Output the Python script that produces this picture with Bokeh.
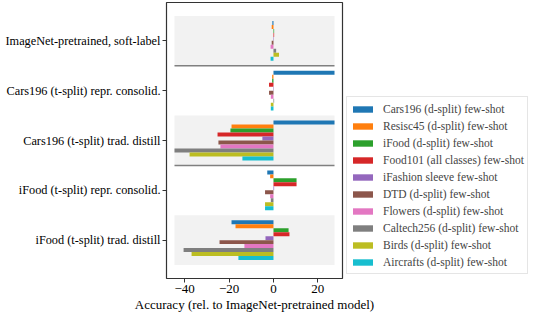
from bokeh.plotting import figure
from bokeh.models import (ColumnDataSource, Legend, LegendItem, FixedTicker, Range1d)
from bokeh.embed import file_html
from bokeh.resources import INLINE

groups = ["ImageNet-pretrained, soft-label", "Cars196 (t-split) repr. consolid.",
          "Cars196 (t-split) trad. distill", "iFood (t-split) repr. consolid.",
          "iFood (t-split) trad. distill"]

series_names = ["Cars196 (d-split) few-shot", "Resisc45 (d-split) few-shot",
                "iFood (d-split) few-shot", "Food101 (all classes) few-shot",
                "iFashion sleeve few-shot", "DTD (d-split) few-shot",
                "Flowers (d-split) few-shot", "Caltech256 (d-split) few-shot",
                "Birds (d-split) few-shot", "Aircrafts (d-split) few-shot"]

cars196 = [-0.5, 27.5, 27.5, -2.8, -18.9]
resisc45 = [-0.8, -0.6, -18.9, -1.5, -17.1]
ifood = [0.3, -0.6, -19.4, 10.4, 6.8]
food101 = [0.3, -2.0, -25.2, 10.4, 7.2]
ifashion = [0.2, 0.2, -5.0, 0.3, -3.6]
dtd = [-0.8, -2.0, -24.8, -3.8, -24.3]
flowers = [-1.3, -1.2, -23.9, -1.5, -13.1]
caltech256 = [1.2, 0.3, -44.6, -1.2, -40.5]
birds = [2.5, -1.2, -37.8, -3.8, -36.9]
aircrafts = [-1.3, -1.2, -14.0, -3.8, -15.8]

series_values = [cars196, resisc45, ifood, food101, ifashion, dtd, flowers,
                 caltech256, birds, aircrafts]

colors = ["#1f77b4", "#ff7f0e", "#2ca02c", "#d62728", "#9467bd",
          "#8c564b", "#e377c2", "#7f7f7f", "#bcbd22", "#17becf"]

x_ticks = [-40, -20, 0, 20]
shaded_groups = [0, 2, 4]
separators_after = [0, 2]

FONT = "Liberation Serif"

p = figure(frame_width=176, frame_height=276, output_backend="svg", toolbar_location=None,
           x_range=Range1d(-48.2, 31.1), y_range=Range1d(4.77, -0.77),
           min_border_left=166, min_border_right=0, min_border_top=2,
           min_border_bottom=0)

allv = [v for s in series_values for v in s]
vmin, vmax = min(allv), max(allv)

n = len(series_names)
bar_h = 0.8 / n

p.quad(left=[vmin] * len(shaded_groups), right=[vmax] * len(shaded_groups),
       bottom=[g - 0.5 for g in shaded_groups], top=[g + 0.5 for g in shaded_groups],
       fill_color="#f2f2f2", line_color=None)
p.segment(x0=[vmin] * len(separators_after), x1=[vmax] * len(separators_after),
          y0=[g + 0.5 for g in separators_after], y1=[g + 0.5 for g in separators_after],
          line_color="#808080", line_width=1.5)

items = []
for i, (name, vals) in enumerate(zip(series_names, series_values)):
    ys = [g - 0.4 + bar_h / 2 + bar_h * i for g in range(len(groups))]
    src = ColumnDataSource(dict(y=ys, right=vals))
    r = p.hbar(y="y", left=0, right="right", height=bar_h, source=src,
               fill_color=colors[i], line_color=None)
    items.append(LegendItem(label=name, renderers=[r]))

legend = Legend(items=items, location="bottom_left")
legend.label_text_font = FONT
legend.label_text_font_size = "11.5px"
legend.glyph_width = 25
legend.glyph_height = 8
legend.label_height = 17
legend.label_standoff = 8
legend.spacing = 0
legend.padding = 3
legend.margin = 4
legend.border_line_color = "#cccccc"
legend.border_line_width = 1
legend.background_fill_color = "white"
legend.background_fill_alpha = 1.0
p.add_layout(legend, "right")

p.xgrid.visible = False
p.ygrid.visible = False
p.outline_line_color = "#333333"
p.outline_line_width = 1.2

p.xaxis.ticker = FixedTicker(ticks=x_ticks)
p.xaxis.major_label_overrides = {t: (str(t).replace("-", "\u2212")) for t in x_ticks}
p.xaxis.axis_label = "Accuracy (rel. to ImageNet-pretrained model)"
p.xaxis.axis_label_text_font = FONT
p.xaxis.axis_label_text_font_style = "normal"
p.xaxis.axis_label_text_font_size = "13px"
p.xaxis.axis_label_standoff = 1
p.xaxis.major_label_text_font = FONT
p.xaxis.major_label_text_font_size = "13px"

p.yaxis.ticker = FixedTicker(ticks=list(range(len(groups))))
p.yaxis.major_label_overrides = {i: g for i, g in enumerate(groups)}
p.yaxis.major_label_text_font = FONT
p.yaxis.major_label_text_font_size = "12.3px"

for ax in (p.xaxis, p.yaxis):
    ax.axis_line_color = None
    ax.minor_tick_line_color = None
    ax.major_tick_in = 0
    ax.major_tick_out = 4
    ax.major_tick_line_color = "#333333"
    ax.major_label_text_color = "black"
    ax.axis_label_text_color = "black"
    ax.major_label_standoff = 2

open("out.html", "w").write(file_html(p, INLINE))
